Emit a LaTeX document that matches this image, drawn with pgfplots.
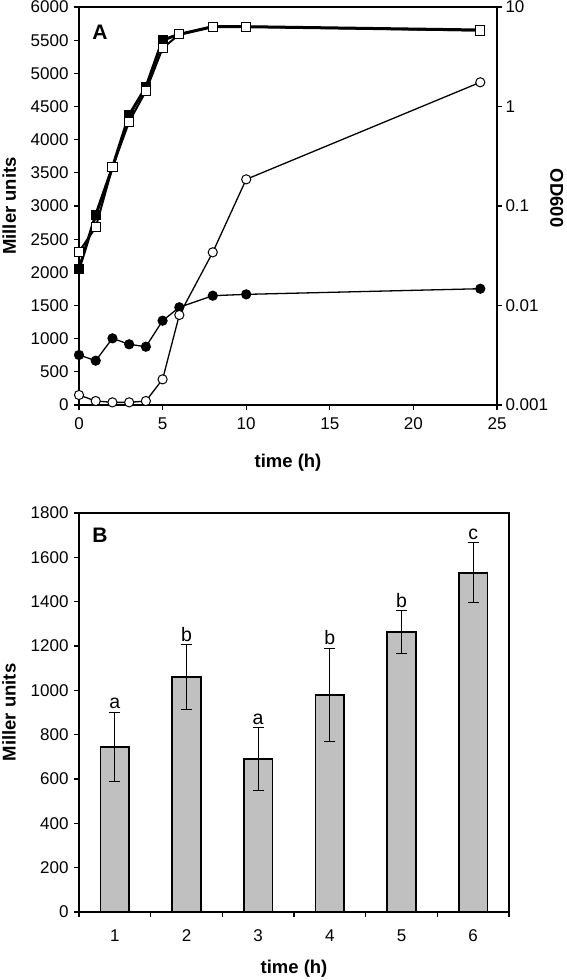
\documentclass[border=0pt]{standalone}
\usepackage{fontspec}
\setmainfont{Liberation Sans}
\usepackage{pgfplots}
\pgfplotsset{compat=1.18}
\definecolor{bargray}{RGB}{192,192,192}
\begin{document}
\begin{tikzpicture}
\useasboundingbox (0pt,0pt) rectangle (566pt,-980pt);
\pgfplotsset{
 every axis/.append style={
  scale only axis,
  font=\fontsize{17}{19}\selectfont,
  tick label style={font=\fontsize{17}{19}\selectfont},
  /pgf/number format/assume math mode=true,
  axis line style={line width=1.6pt},
  tick style={line width=1.2pt, black},
  tick align=outside,
  major tick length=5pt,
  label style={font=\fontsize{18.5}{20}\selectfont\bfseries},
  clip=false,
 }
}
% ---------------- Panel A, left axis (Miller units)
\begin{axis}[at={(79pt,-405pt)}, anchor=south west, width=418pt, height=398pt,
 xmin=0, xmax=25, ymin=0, ymax=6000,
 xtick={0,5,...,25}, ytick={0,500,...,6000},
 xtick pos=bottom, ytick pos=left,
 scaled y ticks=false, yticklabel style={/pgf/number format/1000 sep={}, xshift=-2pt},
 xticklabel style={yshift=-4pt},
 xlabel={time (h)}, ylabel={Miller units},
 xlabel style={at={(axis description cs:0.5,-0.146)}, anchor=center},
 ylabel style={at={(axis description cs:-0.167,0.5)}, anchor=center},
]
\addplot[black, line width=1.3pt, mark=*, mark size=4.6pt, mark options={fill=black, line width=1pt}] coordinates {
 (0,754) (1,668) (2,1005) (3,915) (4,879) (5,1271) (6,1473) (8,1648) (10,1668) (24,1753)};
\addplot[black, line width=1.3pt, mark=*, mark size=4.6pt, mark options={fill=white, line width=1pt}] coordinates {
 (0,151) (1,60) (2,40) (3,40) (4,60) (5,387) (6,1357) (8,2302) (10,3402) (24,4865)};
\node[font=\fontsize{21}{23}\selectfont\bfseries] at (axis description cs:0.05,0.937) {A};
\end{axis}
% ---------------- Panel A, right axis (OD600, log)
\begin{axis}[at={(79pt,-405pt)}, anchor=south west, width=418pt, height=398pt,
 xmin=0, xmax=25, ymode=log, ymin=0.001, ymax=10,
 axis x line=none, axis y line*=right, ytick pos=right,
 ytick={0.001,0.01,0.1,1,10}, yticklabels={0.001,0.01,0.1,1,10},
 yminorticks=false,
 ylabel={OD600},
 ylabel style={at={(axis description cs:1.143,0.52)}, anchor=center, rotate=180},
]
\addplot[black, line width=3pt, mark=square*, mark size=4.6pt, mark options={fill=black, line width=1pt}] coordinates {
 (0,0.0233) (1,0.0811) (2,0.245) (3,0.822) (4,1.56) (5,4.66) (6,5.31) (8,6.34) (10,6.34) (24,5.87)};
\addplot[black, line width=2pt, mark=square*, mark size=4.6pt, mark options={fill=white, line width=1pt}] coordinates {
 (0,0.0347) (1,0.0611) (2,0.245) (3,0.703) (4,1.43) (5,3.85) (6,5.31) (8,6.34) (10,6.34) (24,5.80)};
\end{axis}
% ---------------- Panel B
\begin{axis}[at={(79pt,-912pt)}, anchor=south west, width=430pt, height=399pt,
 xmin=0.5, xmax=6.5, ymin=0, ymax=1800,
 xtick={1,...,6}, ytick={0,200,...,1800},
 major x tick style={draw=none},
 minor xtick={0.5,1.5,...,6.5}, minor tick length=5pt,
 minor x tick style={line width=1.2pt, black},
 xtick pos=bottom, ytick pos=left,
 scaled y ticks=false, yticklabel style={/pgf/number format/1000 sep={}, xshift=-2pt},
 xticklabel style={yshift=-9pt},
 xlabel={time (h)}, ylabel={Miller units},
 xlabel style={at={(axis description cs:0.5,-0.143)}, anchor=center},
 ylabel style={at={(axis description cs:-0.163,0.5)}, anchor=center},
]
\addplot[ybar, bar width=0.4, bar shift=0pt, fill=bargray, draw=black, line width=1.6pt,
 error bars/.cd, y dir=both, y explicit,
 error bar style={line width=1pt, black},
 error mark options={rotate=90, mark size=5.5pt, line width=1pt, black}]
 table[x=x, y=y, y error=e] {
 x y e
 1 745 157
 2 1060 145
 3 690 142
 4 980 210
 5 1262 96
 6 1530 135
};
\addplot[only marks, mark=none, nodes near coords, point meta=explicit symbolic,
 every node near coord/.append style={font=\fontsize{19.5}{21}\selectfont, anchor=south, inner sep=3pt}]
 table[x=x, y=y, meta=lab] {
 x y lab
 1 902 a
 2 1205 b
 3 832 a
 4 1190 b
 5 1358 b
 6 1665 c
};
\node[font=\fontsize{21}{23}\selectfont\bfseries] at (axis description cs:0.049,0.943) {B};
\end{axis}
\end{tikzpicture}
\end{document}
